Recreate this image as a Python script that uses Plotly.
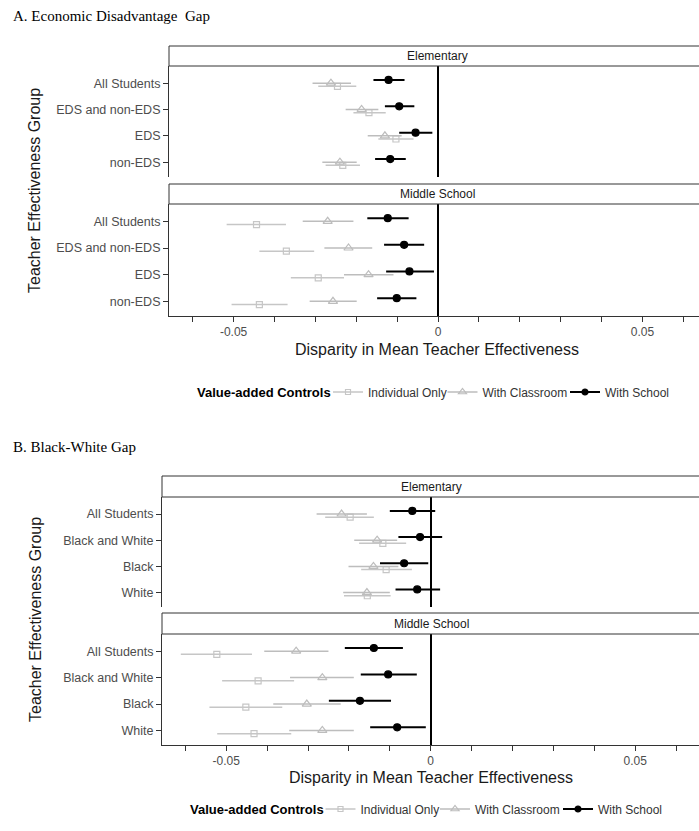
import plotly.graph_objects as go

W, H = 699, 831

A_GROUPS = ["All Students", "EDS and non-EDS", "EDS", "non-EDS"]
B_GROUPS = ["All Students", "Black and White", "Black", "White"]
SERIES = ["Individual Only", "With Classroom", "With School"]
X_TICKS = [-0.06, -0.05, -0.04, -0.03, -0.02, -0.01, 0, 0.01, 0.02, 0.03, 0.04, 0.05, 0.06]
X_TICKTEXT = ["", "-0.05", "", "", "", "", "0", "", "", "", "", "0.05", ""]

# Panel A - Elementary
A_EL_IND = [-0.0246, -0.0169, -0.0103, -0.0233]
A_EL_IND_LO = [-0.0293, -0.0207, -0.0146, -0.0275]
A_EL_IND_HI = [-0.0200, -0.0128, -0.0060, -0.0191]
A_EL_CLS = [-0.0262, -0.0187, -0.0130, -0.0240]
A_EL_CLS_LO = [-0.0307, -0.0226, -0.0172, -0.0283]
A_EL_CLS_HI = [-0.0213, -0.0146, -0.0089, -0.0199]
A_EL_SCH = [-0.0121, -0.0095, -0.0055, -0.0117]
A_EL_SCH_LO = [-0.0158, -0.0130, -0.0095, -0.0154]
A_EL_SCH_HI = [-0.0082, -0.0058, -0.0014, -0.0079]
# Panel A - Middle School
A_MS_IND = [-0.0444, -0.0371, -0.0293, -0.0437]
A_MS_IND_LO = [-0.0517, -0.0437, -0.0360, -0.0505]
A_MS_IND_HI = [-0.0372, -0.0303, -0.0230, -0.0368]
A_MS_CLS = [-0.0270, -0.0219, -0.0170, -0.0257]
A_MS_CLS_LO = [-0.0331, -0.0278, -0.0230, -0.0314]
A_MS_CLS_HI = [-0.0207, -0.0161, -0.0109, -0.0199]
A_MS_SCH = [-0.0123, -0.0083, -0.0070, -0.0101]
A_MS_SCH_LO = [-0.0173, -0.0132, -0.0127, -0.0149]
A_MS_SCH_HI = [-0.0072, -0.0034, -0.0010, -0.0053]
# Panel B - Elementary
B_EL_IND = [-0.0197, -0.0117, -0.0109, -0.0155]
B_EL_IND_LO = [-0.0258, -0.0175, -0.0170, -0.0212]
B_EL_IND_HI = [-0.0139, -0.0060, -0.0046, -0.0098]
B_EL_CLS = [-0.0218, -0.0131, -0.0140, -0.0156]
B_EL_CLS_LO = [-0.0279, -0.0187, -0.0201, -0.0214]
B_EL_CLS_HI = [-0.0156, -0.0082, -0.0079, -0.0100]
B_EL_SCH = [-0.0045, -0.0026, -0.0065, -0.0033]
B_EL_SCH_LO = [-0.0100, -0.0079, -0.0124, -0.0086]
B_EL_SCH_HI = [0.0011, 0.0028, -0.0006, 0.0023]
# Panel B - Middle School
B_MS_IND = [-0.0523, -0.0422, -0.0452, -0.0432]
B_MS_IND_LO = [-0.0611, -0.0510, -0.0541, -0.0522]
B_MS_IND_HI = [-0.0437, -0.0334, -0.0363, -0.0341]
B_MS_CLS = [-0.0329, -0.0265, -0.0303, -0.0265]
B_MS_CLS_LO = [-0.0407, -0.0344, -0.0385, -0.0346]
B_MS_CLS_HI = [-0.0250, -0.0188, -0.0220, -0.0188]
B_MS_SCH = [-0.0139, -0.0104, -0.0173, -0.0082]
B_MS_SCH_LO = [-0.0210, -0.0171, -0.0249, -0.0148]
B_MS_SCH_HI = [-0.0068, -0.0034, -0.0097, -0.0012]

FONT = "Liberation Sans, Arial, sans-serif"
SERIF = "Liberation Serif, Times New Roman, serif"
STYLE = {
    "Individual Only": dict(symbol="square-open", size=6, color="#c6c6c6", bar=1.5, off=0.12),
    "With Classroom": dict(symbol="triangle-up-open", size=8, color="#bdbdbd", bar=1.5, off=0.0),
    "With School": dict(symbol="circle", size=7, color="#000000", bar=2, off=-0.12),
}

def X(px):
    return px / W

def Y(py):
    return 1 - py / H

fig = go.Figure()

panels = [
    (1, A_GROUPS, [("Individual Only", A_EL_IND, A_EL_IND_LO, A_EL_IND_HI),
                   ("With Classroom", A_EL_CLS, A_EL_CLS_LO, A_EL_CLS_HI),
                   ("With School", A_EL_SCH, A_EL_SCH_LO, A_EL_SCH_HI)]),
    (2, A_GROUPS, [("Individual Only", A_MS_IND, A_MS_IND_LO, A_MS_IND_HI),
                   ("With Classroom", A_MS_CLS, A_MS_CLS_LO, A_MS_CLS_HI),
                   ("With School", A_MS_SCH, A_MS_SCH_LO, A_MS_SCH_HI)]),
    (3, B_GROUPS, [("Individual Only", B_EL_IND, B_EL_IND_LO, B_EL_IND_HI),
                   ("With Classroom", B_EL_CLS, B_EL_CLS_LO, B_EL_CLS_HI),
                   ("With School", B_EL_SCH, B_EL_SCH_LO, B_EL_SCH_HI)]),
    (4, B_GROUPS, [("Individual Only", B_MS_IND, B_MS_IND_LO, B_MS_IND_HI),
                   ("With Classroom", B_MS_CLS, B_MS_CLS_LO, B_MS_CLS_HI),
                   ("With School", B_MS_SCH, B_MS_SCH_LO, B_MS_SCH_HI)]),
]

for idx, groups, series in panels:
    for name, est, lo, hi in series:
        st = STYLE[name]
        ypos = [i + 1 + st["off"] for i in range(len(groups))]
        fig.add_trace(go.Scatter(
            x=est, y=ypos, mode="markers", showlegend=False,
            xaxis="x" if idx == 1 else f"x{idx}", yaxis="y" if idx == 1 else f"y{idx}",
            marker=dict(symbol=st["symbol"], size=st["size"], color=st["color"],
                        line=dict(color=st["color"], width=1.2)),
            error_x=dict(type="data", symmetric=False,
                         array=[h - e for h, e in zip(hi, est)],
                         arrayminus=[e - l for e, l in zip(est, lo)],
                         color=st["color"], thickness=st["bar"], width=0),
        ))

A_LEFT, B_LEFT = 169, 162
A_RANGE = [-0.0658, (W - 438) / 4090]
B_RANGE = [-0.0657, (W - 430.7) / 4090]
PANELS_Y = {1: (66, 176.7), 2: (204, 316), 3: (497, 607), 4: (634, 745)}
STRIPS = {1: (46, 66, "Elementary"), 2: (184, 204, "Middle School"),
          3: (476, 497, "Elementary"), 4: (613, 634, "Middle School")}

layout = dict(
    width=W, height=H, margin=dict(l=0, r=0, t=0, b=0),
    paper_bgcolor="white", plot_bgcolor="white",
    font=dict(family=FONT, size=12, color="#333333"),
    showlegend=True,
)

# legends: one per entry so each key sits where the reference puts it
LEGEND_ROWS = [  # (y centre, title x, key-symbol centres)
    (392, 195, [348, 462.5, 585]),
    (809, 188, [340.5, 455, 578]),
]
legend_n = 0
for legy, tx, centres in LEGEND_ROWS:
    for name, cx in zip(SERIES, centres):
        legend_n += 1
        key = "legend" if legend_n == 1 else f"legend{legend_n}"
        st = STYLE[name]
        fig.add_trace(go.Scatter(
            x=[None], y=[None], mode="lines+markers", name=name, legend=key,
            marker=dict(symbol=st["symbol"], size=st["size"] - 1, color=st["color"],
                        line=dict(color=st["color"], width=1.2)),
            line=dict(color=st["color"], width=st["bar"]),
            xaxis="x", yaxis="y",
        ))
        layout[key] = dict(
            orientation="h", xanchor="left", yanchor="middle", itemwidth=30,
            x=X(cx - 20), y=Y(legy),
            font=dict(size=12, color="#333333", family=FONT), bgcolor="rgba(0,0,0,0)",
        )

for idx in range(1, 5):
    left = A_LEFT if idx <= 2 else B_LEFT
    rng = A_RANGE if idx <= 2 else B_RANGE
    bottom = idx in (2, 4)
    xa = dict(
        domain=[X(left), 1], range=rng, anchor="y" if idx == 1 else f"y{idx}",
        showgrid=False, zeroline=True, zerolinecolor="#000000", zerolinewidth=1.5,
        fixedrange=True,
    )
    if bottom:
        xa.update(showline=True, linecolor="#333333", linewidth=1, ticks="outside",
                  ticklen=5, tickcolor="#333333", tickwidth=1,
                  tickvals=X_TICKS, ticktext=X_TICKTEXT,
                  tickfont=dict(size=12, color="#4d4d4d", family=FONT))
    else:
        xa.update(showline=False, ticks="", showticklabels=False)
    y0, y1 = PANELS_Y[idx]
    groups = A_GROUPS if idx <= 2 else B_GROUPS
    ya = dict(
        domain=[Y(y1), Y(y0)], range=[4.55, 0.35], anchor="x" if idx == 1 else f"x{idx}",
        showgrid=False, zeroline=False, showline=True, linecolor="#333333", linewidth=1,
        ticks="outside", ticklen=5, tickcolor="#333333", tickwidth=1,
        tickvals=[1, 2, 3, 4], ticktext=groups,
        tickfont=dict(size=12.5, color="#4d4d4d", family=FONT), fixedrange=True,
    )
    layout["xaxis" if idx == 1 else f"xaxis{idx}"] = xa
    layout["yaxis" if idx == 1 else f"yaxis{idx}"] = ya

shapes = []
annotations = []
for idx, (s0, s1, label) in STRIPS.items():
    left = A_LEFT if idx <= 2 else B_LEFT
    center = 437 if idx <= 2 else 431
    shapes.append(dict(type="rect", xref="paper", yref="paper",
                       x0=X(left), x1=1.05, y0=Y(s1), y1=Y(s0),
                       line=dict(color="#333333", width=1), fillcolor="white"))
    annotations.append(dict(text=label, xref="paper", yref="paper", x=X(center),
                            y=Y((s0 + s1) / 2), showarrow=False, xanchor="center",
                            yanchor="middle", font=dict(size=12, color="#1a1a1a", family=FONT)))

for (title, ty, ycen, xcen, xty), (legy, tx, _) in zip([
    ("A. Economic Disadvantage\u00a0 Gap", 16, 191, 437, 349),
    ("B. Black-White Gap", 447, 620, 431, 777),
], LEGEND_ROWS):
    annotations.append(dict(text=title, xref="paper", yref="paper", x=X(11), y=Y(ty),
                            xanchor="left", yanchor="middle", showarrow=False,
                            font=dict(size=15, color="#000000", family=SERIF)))
    annotations.append(dict(text="Teacher Effectiveness Group", xref="paper", yref="paper",
                            x=X(35), y=Y(ycen), textangle=-90, showarrow=False,
                            xanchor="center", yanchor="middle",
                            font=dict(size=16, color="#1a1a1a", family=FONT)))
    annotations.append(dict(text="Disparity in Mean Teacher Effectiveness", xref="paper",
                            yref="paper", x=X(xcen), y=Y(xty), showarrow=False,
                            xanchor="center", yanchor="middle",
                            font=dict(size=16, color="#1a1a1a", family=FONT)))
    annotations.append(dict(text="<b>Value-added Controls</b>", xref="paper", yref="paper",
                            x=X(tx), y=Y(legy), showarrow=False, xanchor="left",
                            yanchor="middle", font=dict(size=13, color="#000000", family=FONT)))

layout["shapes"] = shapes
layout["annotations"] = annotations

fig.update_layout(**layout)
fig.write_html("out.html")
